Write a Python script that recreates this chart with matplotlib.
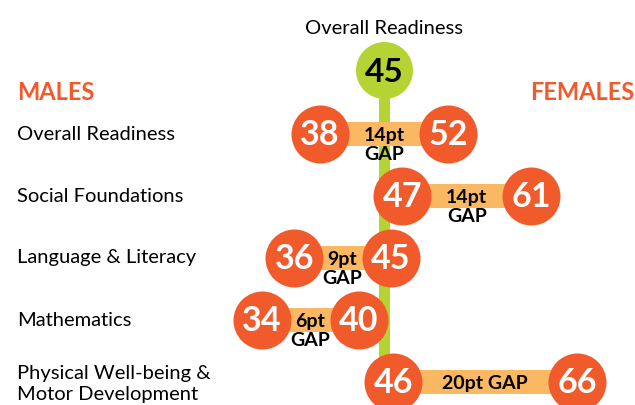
import matplotlib.pyplot as plt

plt.rcParams['font.family'] = ['Lato', 'DejaVu Sans']

# datos
dominios = ['Overall Readiness', 'Social Foundations', 'Language & Literacy',
            'Mathematics', 'Physical Well-being &\nMotor Development']
hombres = [38, 47, 36, 34, 46]
mujeres = [52, 61, 45, 40, 66]
total = 45
titulo_total = 'Overall Readiness'

naranja = '#F15A2B'
barra = '#FBB862'
verde = '#B6D334'

W, H = 635, 405
fig = plt.figure(figsize=(W / 100, H / 100), dpi=100)
ax = fig.add_axes([0, 0, 1, 1])

# escala: 9.2 px por punto, el total (45) en x=384 px
px_pt = 9.2
ax.set_xlim(total - 384 / px_pt, total + (W - 384) / px_pt)
ax.set_ylim(H, 0)
ax.axis('off')

fila0, paso = 134, 62
gap_min = 10.5  # los circulos no caben si la diferencia es pequeña
s_circ = (58 * 0.72) ** 2

# linea vertical y circulo verde
ax.plot([total, total], [70, H], color=verde, lw=11 * 0.72, solid_capstyle='butt', zorder=1)
ax.scatter([total], [70], s=(57 * 0.72) ** 2, color=verde, zorder=2, linewidths=0)
ax.text(total, 72, str(total), ha='center', va='center', fontsize=24,
        fontweight='bold', color='black', zorder=5)
ax.text(total, 28, titulo_total, ha='center', va='center', fontsize=14.5, color='black')

tr = ax.get_yaxis_transform()
ax.text(17 / W, 92, 'MALES', transform=tr, ha='left', va='center',
        fontsize=17, fontweight='bold', color=naranja)
ax.text(634 / W, 92, 'FEMALES', transform=tr, ha='right', va='center',
        fontsize=17, fontweight='bold', color=naranja)

for i, (nombre, m, f) in enumerate(zip(dominios, hombres, mujeres)):
    y = fila0 + i * paso
    medio = (m + f) / 2
    media_dist = max(f - m, gap_min) / 2
    xm, xf = medio - media_dist, medio + media_dist

    if '\n' in nombre:
        ax.text(17 / W, y + 2, nombre, transform=tr, ha='left', va='center',
                fontsize=14.5, linespacing=1.3)
    else:
        ax.text(17 / W, y, nombre, transform=tr, ha='left', va='center', fontsize=14.5)

    ax.barh(y, xf - xm, left=xm, height=24, color=barra, zorder=2)
    ax.scatter([xm, xf], [y, y], s=s_circ, color=naranja, zorder=3, linewidths=0)
    for x, v in ((xm, m), (xf, f)):
        ax.text(x, y + 1, str(v), ha='center', va='center', fontsize=24.5,
                fontweight='bold', color='white', zorder=5)

    gap = f - m
    if gap > 15:
        ax.text(medio, y + 1, f'{gap}pt GAP', ha='center', va='center',
                fontsize=14, fontweight='bold', color='black', zorder=5)
    else:
        ax.text(medio, y + 1, f'{gap}pt', ha='center', va='center',
                fontsize=14, fontweight='bold', color='black', zorder=5)
        ax.text(medio, y + 21, 'GAP', ha='center', va='center',
                fontsize=14, fontweight='bold', color='black', zorder=5)

fig.savefig('out.png', dpi=100)
